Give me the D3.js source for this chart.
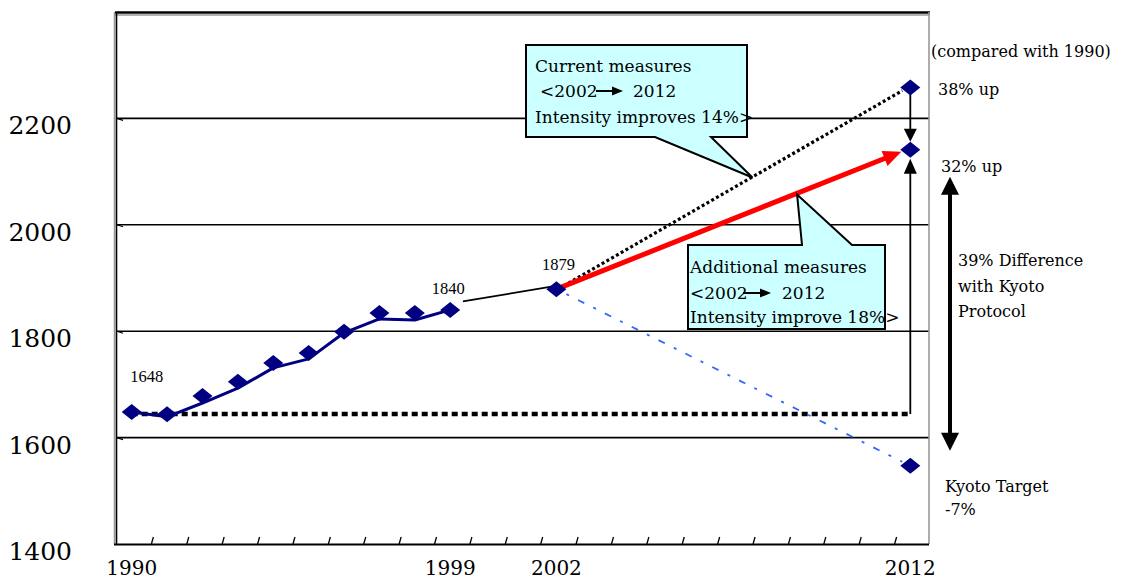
<!DOCTYPE html>
<html>
<head>
<meta charset="utf-8">
<script src="https://cdn.jsdelivr.net/npm/d3@7"></script>
<style>
  html, body { margin: 0; padding: 0; background: #ffffff; }
  svg { display: block; font-family: "DejaVu Serif", serif; }
</style>
</head>
<body>
<svg id="chart" width="1122" height="581"></svg>
<script>
// ---- data ---------------------------------------------------------------
const years = [1990, 1991, 1992, 1993, 1994, 1995, 1996, 1997, 1998, 1999, 2000,
               2001, 2002, 2003, 2004, 2005, 2006, 2007, 2008, 2009, 2010, 2011, 2012];
const axisLabelYears = [1990, 1999, 2002, 2012];
const yTickValues = [1400, 1600, 1800, 2000, 2200];

// historical emissions, solid trend line
const trendYears  = [1990, 1991, 1992, 1993, 1994, 1995, 1996, 1997, 1998, 1999];
const trendValues = [1648, 1639, 1665, 1693, 1731, 1748, 1797, 1823, 1821, 1840];

// diamond markers
const markerYears  = [1990, 1991, 1992, 1993, 1994, 1995, 1996, 1997, 1998, 1999, 2002];
const markerValues = [1648, 1644, 1678, 1705, 1740, 1759, 1799, 1834, 1834, 1840, 1879];

// 2012 outlooks
const baseYear = 1990, baseValue = 1648;
const lastYear = 2002, lastValue = 1879;
const targetYear = 2012;
const currentMeasuresValue = 2258;    // 38% up
const additionalMeasuresValue = 2141; // 32% up
const kyotoTargetValue = 1547;        // -7%

const valueLabelYears  = [1990, 1999, 2002];
const valueLabelValues = [1648, 1840, 1879];

// ---- layout -------------------------------------------------------------
const svg = d3.select("#chart");
const plot = { left: 114, right: 928, top: 12, bottom: 544 };

const x = d3.scaleBand().domain(years).range([plot.left, plot.right]).padding(0);
const cx = yr => x(yr) + x.bandwidth() / 2;
const y = d3.scaleLinear().domain([1400, 2400]).range([plot.bottom, plot.top]);

const pt = (yr, v) => [cx(yr), y(v)];
const lerp = (a, b, t) => [a[0] + (b[0] - a[0]) * t, a[1] + (b[1] - a[1]) * t];

function arrowHead(tip, from, len, width) {
  const dx = tip[0] - from[0], dy = tip[1] - from[1];
  const d = Math.hypot(dx, dy), ux = dx / d, uy = dy / d;
  const bx = tip[0] - ux * len, by = tip[1] - uy * len;
  const px = -uy * width / 2, py = ux * width / 2;
  return `M${tip[0]},${tip[1]}L${bx + px},${by + py}L${bx - px},${by - py}Z`;
}

// ---- gridlines ----------------------------------------------------------
svg.append("g").selectAll("line")
  .data(yTickValues.filter(v => v > 1400))
  .join("line")
  .attr("x1", plot.left + 3).attr("x2", plot.right + 1)
  .attr("y1", d => y(d)).attr("y2", d => y(d))
  .attr("stroke", "#000").attr("stroke-width", 1.6);

// small tick marks on the value axis
svg.append("g").selectAll("path")
  .data(yTickValues.filter(v => v > 1400))
  .join("path")
  .attr("d", d => `M${plot.left + 3},${y(d)}L${plot.left + 9},${y(d) + 2}`)
  .attr("stroke", "#000").attr("stroke-width", 1.2).attr("fill", "none");

// ---- frame --------------------------------------------------------------
svg.append("line").attr("x1", plot.left + 1).attr("x2", plot.right + 2)
  .attr("y1", plot.top + 3).attr("y2", plot.top + 3)
  .attr("stroke", "#999").attr("stroke-width", 1.5);
svg.append("line").attr("x1", plot.left + 1).attr("x2", plot.right + 2)
  .attr("y1", plot.top + 0.5).attr("y2", plot.top + 0.5)
  .attr("stroke", "#000").attr("stroke-width", 2.5);
svg.append("line").attr("x1", plot.left + 0.5).attr("x2", plot.left + 0.5)
  .attr("y1", plot.top).attr("y2", plot.bottom)
  .attr("stroke", "#999").attr("stroke-width", 1.5);
svg.append("line").attr("x1", plot.left + 2.5).attr("x2", plot.left + 2.5)
  .attr("y1", plot.top).attr("y2", plot.bottom)
  .attr("stroke", "#000").attr("stroke-width", 1.6);
svg.append("line").attr("x1", plot.right + 1).attr("x2", plot.right + 1)
  .attr("y1", plot.top).attr("y2", plot.bottom)
  .attr("stroke", "#999").attr("stroke-width", 1.6);

// category axis with inward ticks between years
svg.append("line").attr("x1", plot.left).attr("x2", plot.right + 1)
  .attr("y1", plot.bottom + 0.5).attr("y2", plot.bottom + 0.5)
  .attr("stroke", "#000").attr("stroke-width", 2);
svg.append("g").selectAll("path")
  .data(years.slice(1))
  .join("path")
  .attr("d", d => `M${x(d) + 2},${plot.bottom}L${x(d) + 4},${plot.bottom - 7}`)
  .attr("stroke", "#000").attr("stroke-width", 1.3).attr("fill", "none");

// ---- axis labels --------------------------------------------------------
svg.append("g").selectAll("text")
  .data(yTickValues)
  .join("text")
  .attr("x", 72).attr("y", d => y(d) + 16)
  .attr("text-anchor", "end")
  .attr("font-size", 25).attr("fill", "#000")
  .text(d => d);

svg.append("g").selectAll("text")
  .data(axisLabelYears)
  .join("text")
  .attr("x", d => cx(d)).attr("y", 575)
  .attr("text-anchor", "middle")
  .attr("font-size", 20).attr("fill", "#000")
  .text(d => d);

// ---- reference level and projections -----------------------------------
const pBase = pt(baseYear, baseValue);
const pBaseEnd = pt(targetYear, baseValue);
const pLast = pt(lastYear, lastValue);
const pCurrent = pt(targetYear, currentMeasuresValue);
const pAdditional = pt(targetYear, additionalMeasuresValue);
const pKyoto = pt(targetYear, kyotoTargetValue);

// 1990 level, thick dotted
svg.append("line")
  .attr("x1", pBase[0]).attr("y1", pBase[1] + 2)
  .attr("x2", pBaseEnd[0]).attr("y2", pBaseEnd[1] + 2)
  .attr("stroke", "#000").attr("stroke-width", 4.5)
  .attr("stroke-dasharray", "6,4");

// path to the Kyoto target, blue dash-dot
svg.append("line")
  .attr("x1", pLast[0] + 10).attr("y1", pLast[1] + 5)
  .attr("x2", pKyoto[0] - 8).attr("y2", pKyoto[1] - 4)
  .attr("stroke", "#3366ff").attr("stroke-width", 1.8)
  .attr("stroke-dasharray", "3,10,7,10");

// current measures, black dotted
svg.append("line")
  .attr("x1", pLast[0] + 12).attr("y1", pLast[1] - 6)
  .attr("x2", pCurrent[0] - 8).attr("y2", pCurrent[1] + 3)
  .attr("stroke", "#000").attr("stroke-width", 3.2)
  .attr("stroke-dasharray", "3,2.5");

// additional measures, red arrow
{
  const start = [pLast[0] + 5, pLast[1] - 2];
  const tip = [pAdditional[0] - 9, pAdditional[1] + 2];
  const base = lerp(tip, start, 16 / Math.hypot(tip[0] - start[0], tip[1] - start[1]));
  svg.append("line")
    .attr("x1", start[0]).attr("y1", start[1])
    .attr("x2", base[0]).attr("y2", base[1])
    .attr("stroke", "#ff0000").attr("stroke-width", 5);
  svg.append("path").attr("d", arrowHead(tip, start, 18, 16)).attr("fill", "#ff0000");
}

// connector 1999 -> 2002
{
  const a = pt(1999, 1840);
  const s = lerp(a, pLast, 0.12);
  svg.append("line")
    .attr("x1", s[0]).attr("y1", s[1] - 6)
    .attr("x2", pLast[0] - 2).attr("y2", pLast[1] - 3)
    .attr("stroke", "#000").attr("stroke-width", 1.8);
}

// historical trend line
svg.append("path")
  .datum(trendYears.map((yr, i) => [cx(yr), y(trendValues[i])]))
  .attr("d", d3.line())
  .attr("fill", "none").attr("stroke", "#000080").attr("stroke-width", 3)
  .attr("stroke-linejoin", "round");

// ---- 2012 arrows --------------------------------------------------------
// from current measures down to additional measures
{
  const from = [pCurrent[0], pCurrent[1] + 4];
  const tip = [pAdditional[0], pAdditional[1] - 8];
  svg.append("line").attr("x1", from[0]).attr("y1", from[1])
    .attr("x2", tip[0]).attr("y2", tip[1] - 10)
    .attr("stroke", "#000").attr("stroke-width", 1.8);
  svg.append("path").attr("d", arrowHead(tip, from, 13, 13)).attr("fill", "#000");
}
// from the 1990 level up to additional measures
{
  const from = [pBaseEnd[0], pBaseEnd[1] + 2];
  const tip = [pAdditional[0], pAdditional[1] + 9];
  svg.append("line").attr("x1", from[0]).attr("y1", from[1])
    .attr("x2", tip[0]).attr("y2", tip[1] + 12)
    .attr("stroke", "#000").attr("stroke-width", 1.8);
  svg.append("path").attr("d", arrowHead(tip, from, 15, 13)).attr("fill", "#000");
}
// gap between additional measures and Kyoto target, double arrow
{
  const ax = 950;
  const top = [ax, y(additionalMeasuresValue) + 27];
  const bottom = [ax, y(kyotoTargetValue) - 15];
  svg.append("line").attr("x1", ax).attr("y1", top[1] + 15)
    .attr("x2", ax).attr("y2", bottom[1] - 15)
    .attr("stroke", "#000").attr("stroke-width", 4);
  svg.append("path").attr("d", arrowHead(top, bottom, 18, 18)).attr("fill", "#000");
  svg.append("path").attr("d", arrowHead(bottom, top, 18, 18)).attr("fill", "#000");
}

// ---- diamonds -----------------------------------------------------------
const diamond = "M0,-8L10,0L0,8L-10,0Z";
const diamondPoints = markerYears.map((yr, i) => pt(yr, markerValues[i]))
  .concat([pCurrent, pAdditional, pKyoto]);
svg.append("g").selectAll("path")
  .data(diamondPoints)
  .join("path")
  .attr("transform", d => `translate(${d[0]},${d[1]})`)
  .attr("d", diamond)
  .attr("fill", "#000080");

// value labels
const labelOffsets = [[15, -30], [-2, -16], [2, -19]];
svg.append("g").selectAll("text")
  .data(valueLabelYears.map((yr, i) => ({ yr, v: valueLabelValues[i], o: labelOffsets[i] })))
  .join("text")
  .attr("x", d => cx(d.yr) + d.o[0]).attr("y", d => y(d.v) + d.o[1])
  .attr("text-anchor", "middle")
  .attr("font-family", "'Liberation Serif', serif")
  .attr("font-size", 16.5).attr("fill", "#000")
  .text(d => d.v);

// ---- callouts -----------------------------------------------------------
function smallArrow(g, x1, x2, yy) {
  g.append("line").attr("x1", x1).attr("x2", x2 - 9).attr("y1", yy).attr("y2", yy)
    .attr("stroke", "#000").attr("stroke-width", 2);
  g.append("path").attr("d", arrowHead([x2, yy], [x1, yy], 11, 9)).attr("fill", "#000");
}

{
  const tip = lerp(pLast, pCurrent, 0.554);
  const g = svg.append("g");
  g.append("path")
    .attr("d", `M526,45H747V137H711L${tip[0]},${tip[1]}L655,137H526Z`)
    .attr("fill", "#ccffff").attr("stroke", "#000").attr("stroke-width", 2)
    .attr("stroke-linejoin", "miter");
  const t = g.append("g").attr("font-size", 17).attr("fill", "#000");
  t.append("text").attr("x", 535).attr("y", 72).text("Current measures");
  t.append("text").attr("x", 540).attr("y", 97).text("<2002");
  smallArrow(g, 596, 623, 91);
  t.append("text").attr("x", 633).attr("y", 97).text("2012");
  t.append("text").attr("x", 535).attr("y", 123).text("Intensity improves 14%>");
}

{
  const tip = lerp(pLast, pAdditional, 0.68);
  const g = svg.append("g");
  g.append("path")
    .attr("d", `M688,245H802L${tip[0]},${tip[1]}L852,245H885V329H688Z`)
    .attr("fill", "#ccffff").attr("stroke", "#000").attr("stroke-width", 2)
    .attr("stroke-linejoin", "miter");
  const t = g.append("g").attr("font-size", 17).attr("fill", "#000");
  t.append("text").attr("x", 690).attr("y", 273).text("Additional measures");
  t.append("text").attr("x", 690).attr("y", 299).text("<2002");
  smallArrow(g, 743, 771, 293);
  t.append("text").attr("x", 782).attr("y", 299).text("2012");
  t.append("text").attr("x", 690).attr("y", 323).text("Intensity improve 18%>");
}

// ---- side notes ---------------------------------------------------------
const notes = svg.append("g").attr("font-size", 16).attr("fill", "#000");
notes.append("text").attr("x", 931).attr("y", 57).text("(compared with 1990)");
notes.append("text").attr("x", 938).attr("y", 95).text("38% up");
notes.append("text").attr("x", 941).attr("y", 172).text("32% up");
notes.append("text").attr("x", 958).attr("y", 266).text("39% Difference");
notes.append("text").attr("x", 958).attr("y", 292).text("with Kyoto");
notes.append("text").attr("x", 958).attr("y", 317).text("Protocol");
notes.append("text").attr("x", 945).attr("y", 492).text("Kyoto Target");
notes.append("text").attr("x", 945).attr("y", 515).text("-7%");
</script>
</body>
</html>
